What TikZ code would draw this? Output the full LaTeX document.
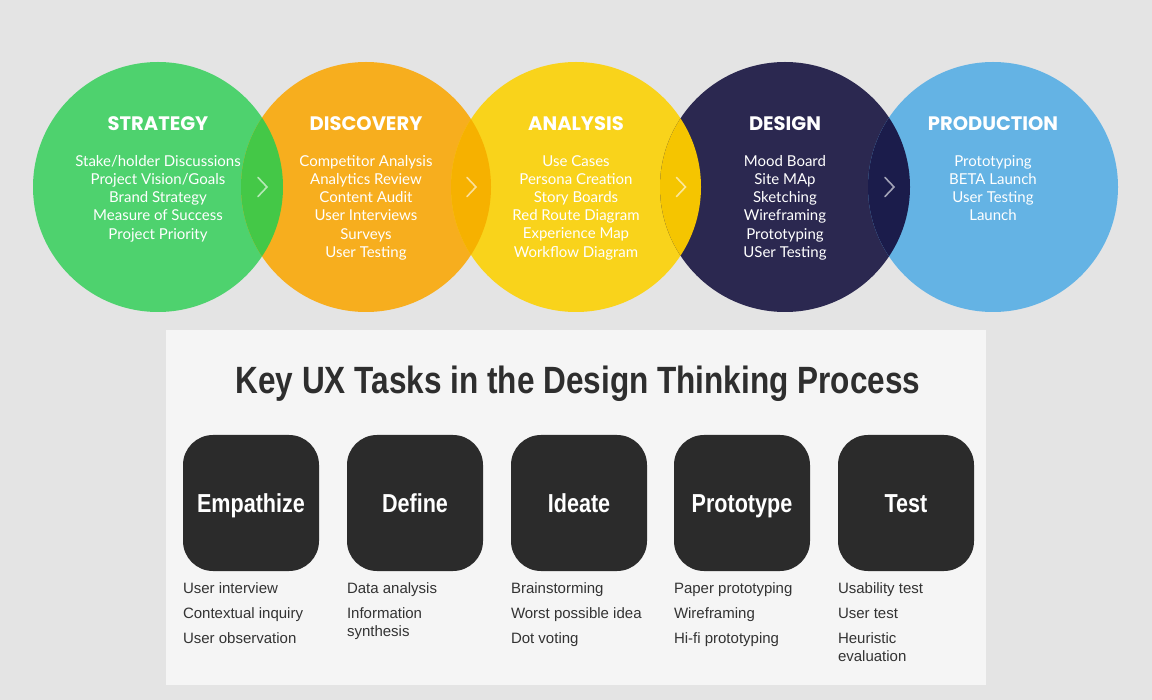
\documentclass[tikz,border=0pt]{standalone}
\usepackage{fontspec}
\setmainfont{Lato}
\newfontfamily\phasefont{Poppins}
\newfontfamily\condfont[FakeStretch=0.83]{Liberation Sans}
\newfontfamily\taskfont{Liberation Sans}
\usetikzlibrary{calc,positioning}

\definecolor{bggrey}{HTML}{E4E4E4}
\definecolor{panelwhite}{HTML}{F5F5F5}
\definecolor{stratgreen}{HTML}{4ED26E}
\definecolor{discorange}{HTML}{F7AE1E}
\definecolor{anayellow}{HTML}{F9D31B}
\definecolor{designnavy}{HTML}{2B2850}
\definecolor{prodblue}{HTML}{64B3E4}
\definecolor{lapgreen}{HTML}{44C847}
\definecolor{laporange}{HTML}{F6B100}
\definecolor{lapyellow}{HTML}{F5C500}
\definecolor{lapnavy}{HTML}{1B1C4B}
\definecolor{boxdark}{HTML}{2B2B2B}
\definecolor{titlegrey}{HTML}{2E2E2E}
\definecolor{listgrey}{HTML}{333333}

\tikzset{
	phase/.style={circle, minimum size=250pt, inner sep=0pt, draw=none},
	phasetitle/.style={text=white, font=\phasefont\bfseries\fontsize{19.5}{19.5}\selectfont, anchor=base, inner sep=0pt},
	phaseitem/.style={text=white, font=\fontsize{15}{18.2}\selectfont, align=center, anchor=north, inner sep=0pt},
	chev/.style={white, opacity=0.6, line width=1.6pt, line cap=round},
	taskbox/.style={fill=boxdark, rounded corners=30pt, minimum width=136pt, minimum height=136pt, inner sep=0pt, text=white, text height=19pt, text depth=0pt, font=\condfont\bfseries\fontsize{26}{26}\selectfont},
	tasklist/.style={text=listgrey, font=\taskfont\fontsize{15}{18}\selectfont, align=left, anchor=north west, inner sep=0pt}
}

\begin{document}
\begin{tikzpicture}[x=1pt,y=-1pt]
	\fill[bggrey] (0,0) rectangle (1152,700);
	\useasboundingbox (0,0) rectangle (1152,700);

	% phase circles
	\node[phase, fill=stratgreen] (strategy) at (158,187) {};
	\node[phase, fill=discorange] (discovery) at (366,187) {};
	\node[phase, fill=anayellow] (analysis) at (576,187) {};
	\node[phase, fill=designnavy] (design) at (785,187) {};
	\node[phase, fill=prodblue] (production) at (993,187) {};

	\foreach \l/\r/\c in {strategy/discovery/lapgreen, discovery/analysis/laporange, analysis/design/lapyellow, design/production/lapnavy}{
		\begin{scope}
			\clip (\l.center) circle (125pt);
			\fill[\c] (\r.center) circle (125pt);
		\end{scope}
	}

	\foreach \l/\r [count=\i] in {strategy/discovery, discovery/analysis, analysis/design, design/production}{
		\coordinate (gap\i) at ($(\l.center)!0.5!(\r.center)$);
		\draw[chev] ($(gap\i)+(-4pt,9.5pt)$) -- ($(gap\i)+(5pt,0pt)$) -- ($(gap\i)+(-4pt,-9.5pt)$);
	}

	\node[phasetitle] (strategyT) at (158,131) {STRATEGY};
	\node[phasetitle] (discoveryT) at (366,131) {DISCOVERY};
	\node[phasetitle] (analysisT) at (576,131) {ANALYSIS};
	\node[phasetitle] (designT) at (785,131) {DESIGN};
	\node[phasetitle] (productionT) at (993,131) {PRODUCTION};

	\node[phaseitem] (strategyL) at (158,155) {Stake/holder Discussions\\Project Vision/Goals\\Brand Strategy\\Measure of Success\\Project Priority};
	\node[phaseitem] (discoveryL) at (366,155) {Competitor Analysis\\Analytics Review\\Content Audit\\User Interviews\\Surveys\\User Testing};
	\node[phaseitem] (analysisL) at (576,155) {Use Cases\\Persona Creation\\Story Boards\\Red Route Diagram\\Experience Map\\Workflow Diagram};
	\node[phaseitem] (designL) at (785,155) {Mood Board\\Site MAp\\Sketching\\Wireframing\\Prototyping\\USer Testing};
	\node[phaseitem] (productionL) at (993,155) {Prototyping\\BETA Launch\\User Testing\\Launch};

	% design thinking panel
	\fill[panelwhite] (166,330) rectangle (986,685);
	\node[text=titlegrey, font=\condfont\bfseries\fontsize{38}{38}\selectfont, anchor=base, inner sep=0pt] (heading) at (578,394) {Key UX Tasks in the Design Thinking Process};

	\node[taskbox] (empathize) at (251,503) {Empathize};
	\node[taskbox] (define) at (415,503) {Define};
	\node[taskbox] (ideate) at (579,503) {Ideate};
	\node[taskbox] (prototype) at (742,503) {Prototype};
	\node[taskbox] (test) at (906,503) {Test};

	\node[tasklist] (empathizeL) at (empathize.south west |- 0,582) {User interview\\[7pt]Contextual inquiry\\[7pt]User observation};
	\node[tasklist] (defineL) at (define.south west |- 0,582) {Data analysis\\[7pt]Information\\synthesis};
	\node[tasklist] (ideateL) at (ideate.south west |- 0,582) {Brainstorming\\[7pt]Worst possible idea\\[7pt]Dot voting};
	\node[tasklist] (prototypeL) at (prototype.south west |- 0,582) {Paper prototyping\\[7pt]Wireframing\\[7pt]Hi-fi prototyping};
	\node[tasklist] (testL) at (test.south west |- 0,582) {Usability test\\[7pt]User test\\[7pt]Heuristic\\evaluation};

\end{tikzpicture}
\end{document}
